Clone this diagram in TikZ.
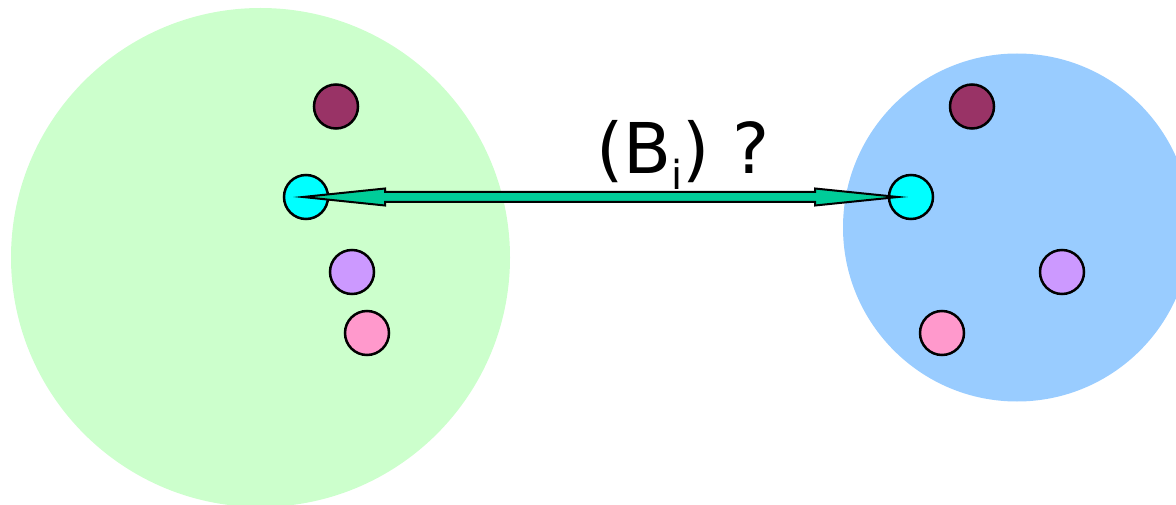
\documentclass[tikz,border=0pt]{standalone}
\usepackage{fontspec}
\setmainfont{DejaVu Sans}
\usetikzlibrary{calc}
\definecolor{bggreen}{HTML}{CCFFCC}
\definecolor{bgblue}{HTML}{99CCFF}
\definecolor{dmaroon}{HTML}{993366}
\definecolor{dcyan}{HTML}{00FFFF}
\definecolor{dlilac}{HTML}{CC99FF}
\definecolor{dpink}{HTML}{FF99CC}
\definecolor{arrowfill}{HTML}{00CC99}
\begin{document}
\begin{tikzpicture}[x=1pt,y=-1pt,
  dot/.style={circle,draw=black,line width=2.5pt,minimum size=44pt,inner sep=0pt},
  fatarrow/.style={draw=black,line width=2pt,fill=arrowfill,line join=miter}]
\useasboundingbox (0,0) rectangle (1176,505);
\begin{scope}
\clip (0,0) rectangle (1176,505);
\fill[bggreen] (260.5,257.5) circle (249.5);
\fill[bgblue] (1017,227.5) circle (174);
\end{scope}
% left cluster
\node[dot,fill=dmaroon] (lm) at (336,106.5) {};
\node[dot,fill=dcyan] (lc) at (306,197) {};
\node[dot,fill=dlilac] (ll) at (352,272) {};
\node[dot,fill=dpink] (lp) at (367,333) {};
% right cluster
\node[dot,fill=dmaroon] (rm) at (972,106.5) {};
\node[dot,fill=dcyan] (rc) at (911,197) {};
\node[dot,fill=dlilac] (rl) at (1062,272) {};
\node[dot,fill=dpink] (rp) at (942,333) {};
% label
\node[anchor=base west,inner sep=0pt,font=\fontsize{70}{84}\selectfont] (lbl) at (596,174)
  {(B\raisebox{-16pt}{\fontsize{40}{48}\selectfont i}) ?};
% arrow
\coordinate (tl) at ($(lc.center)+(-3,0)$);
\coordinate (tr) at ($(rc.center)+(-13,0)$);
\draw[fatarrow] (tl) -- ($(tl)+(82,-8.5)$) -- ($(tl)+(82,-5)$) -- ($(tr)+(-83,-5)$)
  -- ($(tr)+(-83,-8.5)$) -- (tr) -- ($(tr)+(-83,8.5)$) -- ($(tr)+(-83,5)$)
  -- ($(tl)+(82,5)$) -- ($(tl)+(82,8.5)$) -- cycle;
\end{tikzpicture}
\end{document}
